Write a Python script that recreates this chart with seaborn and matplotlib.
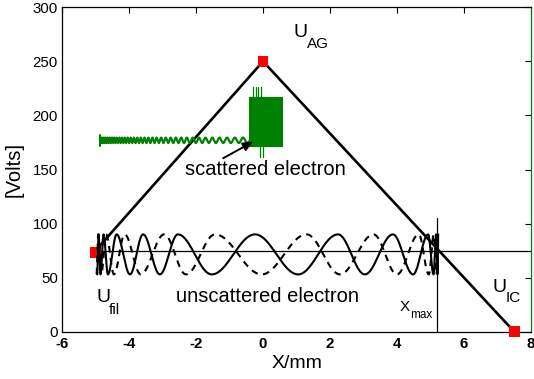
import numpy as np
import pandas as pd
import matplotlib
matplotlib.use("Agg")
import matplotlib.pyplot as plt
import seaborn as sns

# ---------------- data ----------------
pot_x = [-5.0, 0.0, 7.5]          # potential profile corners (mm)
pot_v = [75, 250, 0]              # volts
marker_x = [-5.0, 0.0, 7.5]
marker_v = [73, 250, 0]
fermi_x = [-5.1, 8.0]
fermi_v = [75, 75]
xmax_x = [5.2, 5.2]
xmax_v = [0, 105]

wave_center = 71.5
wave_amp = 18.5
# x positions of successive extrema (first one is a trough)
solid_ext_x = [-4.95, -4.91, -4.85, -4.76, -4.63, -4.37, -3.97, -3.58, -3.08,
               -2.54, -1.53, -0.24, 1.05, 2.24, 3.04, 3.88, 4.48, 4.93, 5.09,
               5.17, 5.21, 5.23]
dashed_ext_x = [-4.97, -4.92, -4.83, -4.68, -4.45, -4.13, -3.65, -2.95, -2.30,
                -1.43, -0.04, 1.30, 2.30, 3.30, 4.00, 4.65, 4.95, 5.10, 5.18,
                5.22]

green_x_range = [-4.87, -0.42]
green_level = 177
green_amp = 2.5
green_wl = [0.05, 0.26]           # wavelength at start / end of the wiggle
block_x = [-0.42, 0.56]
block_lo, block_hi = 172, 217
spike_up_x = [-0.30, -0.22, -0.14, -0.06]
spike_up_top = 226
spike_dn_x = [-0.08, -0.01]
spike_dn_bot = 162

xticks = [-6, -4, -2, 0, 2, 4, 6, 8]
yticks = [0, 50, 100, 150, 200, 250, 300]

GREEN = "#008000"
RED = "#FF0000"

# ---------------- style ----------------
sns.set_theme(style="white")
plt.rcParams["font.family"] = ["Liberation Sans", "DejaVu Sans"]
plt.rcParams["axes.unicode_minus"] = True
for key in ["text.color", "axes.labelcolor", "xtick.color", "ytick.color",
            "axes.edgecolor"]:
    plt.rcParams[key] = "black"

fig = plt.figure(figsize=(5.34, 3.79), dpi=100)
ax = fig.add_axes([62 / 534, 1 - 331.7 / 379, 469 / 534, 324.4 / 379])


def extrema_curve(ext_x, center, amp, n=40):
    xs, ys = [], []
    sign = -1
    for i in range(len(ext_x) - 1):
        x0, x1 = ext_x[i], ext_x[i + 1]
        v0 = center + sign * amp
        v1 = center - sign * amp
        t = np.linspace(0, 1, n)
        xs.append(x0 + (x1 - x0) * t)
        ys.append((v0 + v1) / 2 + (v0 - v1) / 2 * np.cos(np.pi * t))
        sign = -sign
    return np.concatenate(xs), np.concatenate(ys)


# potential V-shape
sns.lineplot(x=pot_x, y=pot_v, ax=ax, color="black", lw=1.9, sort=False,
             estimator=None, zorder=2)
# Fermi level and Xmax line
sns.lineplot(x=fermi_x, y=fermi_v, ax=ax, color="black", lw=0.9, sort=False,
             estimator=None, zorder=2)
sns.lineplot(x=xmax_x, y=xmax_v, ax=ax, color="black", lw=0.9, sort=False,
             estimator=None, zorder=2)

# red squares
sns.scatterplot(x=marker_x, y=marker_v, ax=ax, marker="s", s=62, color=RED,
                edgecolor="none", zorder=3, clip_on=False)

# unscattered electron trajectories
sx, sy = extrema_curve(solid_ext_x, wave_center, wave_amp)
dx, dy = extrema_curve(dashed_ext_x, wave_center, wave_amp)
sns.lineplot(x=sx, y=sy, ax=ax, color="black", lw=1.5, sort=False,
             estimator=None, zorder=4)
sns.lineplot(x=dx, y=dy, ax=ax, color="black", lw=1.5, sort=False,
             estimator=None, zorder=4, linestyle=(0, (3.2, 2.6)))

# scattered electron (green)
gx = np.linspace(green_x_range[0], green_x_range[1], 4000)
s_ = (green_wl[1] - green_wl[0]) / (green_x_range[1] - green_x_range[0])
lam = green_wl[0] + s_ * (gx - green_x_range[0])
phase = 2 * np.pi / s_ * np.log(lam / green_wl[0])
gy = green_level + green_amp * np.sin(phase)
sns.lineplot(x=gx, y=gy, ax=ax, color=GREEN, lw=1.6, sort=False,
             estimator=None, zorder=5)
ax.plot([green_x_range[0], green_x_range[0]], [green_level - 5, green_level + 5],
        color=GREEN, lw=1.5, zorder=5)
ax.fill_between(block_x, [block_lo] * 2, [block_hi] * 2, color=GREEN,
                lw=0.8, edgecolor=GREEN, zorder=5)
for xs_ in spike_up_x:
    ax.plot([xs_, xs_], [block_hi - 2, spike_up_top], color=GREEN, lw=0.9, zorder=5)
for xs_ in spike_dn_x:
    ax.plot([xs_, xs_], [block_lo + 2, spike_dn_bot], color=GREEN, lw=0.9, zorder=5)

# arrow
ax.annotate("", xy=(-0.29, 175.8), xytext=(-1.19, 160.4),
            arrowprops=dict(arrowstyle="-|>,head_length=0.5,head_width=0.22",
                            color="black", lw=1.4, shrinkA=0, shrinkB=0),
            zorder=6)

# texts
ax.text(0.06, 145, "scattered electron", fontsize=14.5, ha="center",
        va="baseline", color="black", zorder=7)
ax.text(0.13, 27.5, "unscattered electron", fontsize=14.5, ha="center",
        va="baseline", color="black", zorder=7)


def sublabel(x, y, base, sub, fs, sfs, dxp, dyp):
    ax.text(x, y, base, fontsize=fs, ha="left", va="baseline", color="black",
            zorder=7)
    ax.annotate(sub, xy=(x, y), xytext=(dxp, dyp), textcoords="offset points",
                fontsize=sfs, ha="left", va="baseline", color="black", zorder=7)


sublabel(0.92, 272.3, "U", "AG", 14, 11, 9.4, -7.9)
sublabel(-4.96, 27.5, "U", "fil", 14, 11, 8.6, -9.0)
sublabel(6.84, 36.7, "U", "IC", 14, 11, 10.0, -7.2)
sublabel(4.07, 19.1, "X", "max", 11, 8.5, 7.9, -5.0)

# axes
ax.set_xlim(-6, 8)
ax.set_ylim(0, 300)
ax.set_xticks(xticks)
ax.set_yticks(yticks)
ax.set_xticklabels([str(v) for v in xticks], fontweight="bold")
ax.tick_params(direction="in", length=4, width=0.8, top=True, right=True,
               labelsize=10.8, colors="black")
ax.tick_params(axis="x", pad=4)
ax.tick_params(axis="y", pad=3)
for side in ["left", "bottom", "top"]:
    ax.spines[side].set_color("black")
    ax.spines[side].set_linewidth(0.9)
ax.spines["right"].set_color(GREEN)
ax.spines["right"].set_linewidth(0.9)
ax.set_xlabel("X/mm", fontsize=14, color="black")
ax.set_ylabel("[Volts]", fontsize=14.5, color="black")
ax.xaxis.set_label_coords(0.5, -0.072)
ax.yaxis.set_label_coords(-0.082, 0.5)

fig.savefig("out.png", dpi=100)
